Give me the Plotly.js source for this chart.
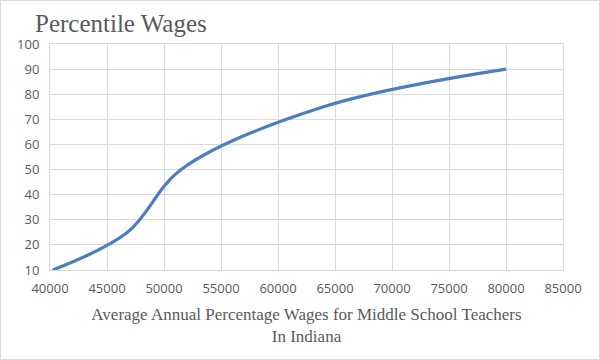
<!DOCTYPE html>
<html>
<head>
<meta charset="utf-8">
<script src="https://cdn.plot.ly/plotly-3.0.1.min.js"></script>
<style>
html,body{margin:0;padding:0;background:#fff;}
#wrap{position:relative;width:600px;height:360px;}
#chart{width:600px;height:360px;}
#border{position:absolute;left:0;top:0;width:598px;height:358px;border:1px solid #d9d9d9;pointer-events:none;}
</style>
</head>
<body>
<div id="wrap"><div id="chart"></div><div id="border"></div></div>
<script>
const wages = [40240, 46800, 51500, 64000, 80000];
const percentiles = [10, 25, 50, 75, 90];
const xTicks = [40000, 45000, 50000, 55000, 60000, 65000, 70000, 75000, 80000, 85000];
const yTicks = [10, 20, 30, 40, 50, 60, 70, 80, 90, 100];

const trace = {
  x: wages, y: percentiles, type: 'scatter', mode: 'lines',
  line: {color: '#4a7ebf', width: 3.2, shape: 'spline', smoothing: 1},
  hoverinfo: 'skip'
};
const tickFont = {family: 'Open Sans, Liberation Sans, sans-serif', size: 13, color: '#595959'};
const layout = {
  width: 600, height: 360,
  margin: {l: 50, r: 37, t: 44, b: 90},
  paper_bgcolor: '#fff', plot_bgcolor: '#fff',
  showlegend: false,
  title: {text: 'Percentile Wages', x: 35/600, xanchor: 'left', y: 1 - 23/360, yanchor: 'middle',
          font: {family: 'Liberation Serif, serif', size: 25, color: '#595959'}},
  xaxis: {range: [40000, 85000], tickvals: xTicks, ticktext: xTicks.map(String),
          showgrid: true, gridcolor: '#d9d9d9', gridwidth: 1, zeroline: false,
          showline: true, linecolor: '#d9d9d9', mirror: true, ticks: '', tickfont: tickFont,
          ticklabelstandoff: 6,
          title: {text: 'Average Annual Percentage Wages for Middle School Teachers<br>In Indiana',
                  standoff: 12, font: {family: 'Liberation Serif, serif', size: 17, color: '#595959'}}},
  yaxis: {range: [10, 100], tickvals: yTicks, ticktext: yTicks.map(String),
          showgrid: true, gridcolor: '#d9d9d9', gridwidth: 1, zeroline: false,
          showline: true, linecolor: '#d9d9d9', mirror: true, ticks: '', tickfont: tickFont,
          ticklabelstandoff: 7}
};
Plotly.newPlot('chart', [trace], layout, {staticPlot: true, displayModeBar: false});
</script>
</body>
</html>
